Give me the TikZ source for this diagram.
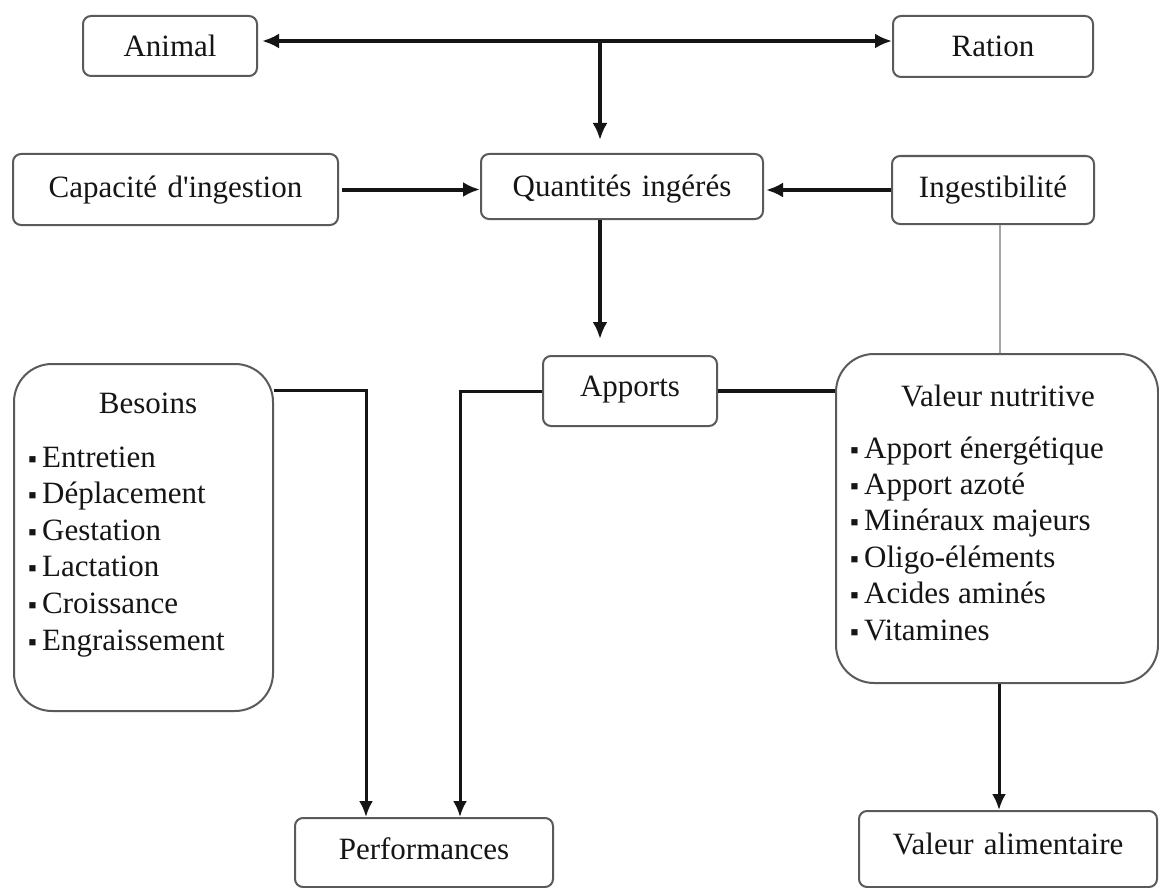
\documentclass[tikz,border=0pt]{standalone}
\usepackage{fontspec}
\setmainfont{Liberation Serif}
\usetikzlibrary{arrows.meta}
\definecolor{boxgray}{HTML}{5A5A5A}
\definecolor{ink}{HTML}{151515}
\newcommand{\bul}{\makebox[14pt][l]{\fontsize{25pt}{25pt}\selectfont ▪}}
\begin{document}
\begin{tikzpicture}[x=1pt,y=-1pt,
  every node/.style={font=\fontsize{31pt}{36pt}\selectfont, text=ink},
  box/.style={draw=boxgray, line width=2pt, rounded corners=8pt, fill=white, inner sep=0pt, align=center, anchor=north},
  bigbox/.style={draw=boxgray, line width=2pt, rounded corners=38pt, fill=white, inner sep=0pt, anchor=north west},
  item/.style={inner sep=0pt, anchor=base west},
  ttl/.style={inner sep=0pt, anchor=base},
  tarr/.style={line width=4pt, draw=ink, -{Latex[length=17pt,width=15pt]}},
  marr/.style={line width=3pt, draw=ink, -{Latex[length=16pt,width=14pt]}},
  thk/.style={line width=4pt, draw=ink},
  thn/.style={line width=1.5pt, draw=gray!70}]
\useasboundingbox[fill=white] (0,0) rectangle (1159,888);

% small boxes
\node[box, text width=174pt, text height=41pt, text depth=19pt] (ani) at (170,15) {Animal};
\node[box, text width=200pt, text height=41pt, text depth=20pt] (rat) at (993,15) {Ration};
\node[box, text width=325pt, text height=43pt, text depth=28pt] (cap) at (175.5,153) {Capacité d\textquotesingle ingestion};
\node[box, text width=282pt, text height=42pt, text depth=23pt] (qua) at (622,153) {Quantités ingérés};
\node[box, text width=202pt, text height=41pt, text depth=27pt] (ing) at (993,155) {Ingestibilité};
\node[box, text width=174pt, text height=40pt, text depth=30pt] (app) at (630,355) {Apports};
\node[box, text width=258pt, text height=41pt, text depth=28pt] (perf) at (424,817) {Performances};
\node[box, text width=298pt, text height=43pt, text depth=33pt] (va) at (1008,810) {Valeur alimentaire};

% big boxes
\node[bigbox, minimum width=259pt, minimum height=347pt] (bes) at (13,363) {};
\node[ttl] (bestitle) at (148,413) {Besoins};
\foreach \t [count=\i] in {Entretien,Déplacement,Gestation,Lactation,Croissance,Engraissement}
  \node[item] (b\i) at (28,{467+36.6*(\i-1)}) {\bul\t};

\node[bigbox, minimum width=322pt, minimum height=329pt] (vn) at (835,353) {};
\node[ttl] (vntitle) at (998,406) {Valeur nutritive};
\foreach \t [count=\i] in {Apport énergétique,Apport azoté,Minéraux majeurs,Oligo-éléments,Acides aminés,Vitamines}
  \node[item] (v\i) at (850,{458+36.4*(\i-1)}) {\bul\t};

% helper coordinates
\coordinate (j) at (600,41);
\coordinate (bp) at (366,390);
\coordinate (ap) at (460,390);
\coordinate (iv) at (1000,300);
\coordinate (vv) at (999,750);

% connectors
\draw[tarr, {Latex[length=17pt,width=15pt]}-{Latex[length=17pt,width=15pt]}, shorten <=4pt] (ani.east |- j) -- (rat.west |- j);
\draw[tarr, shorten >=13pt] (j) -- (j |- qua.north);
\draw[tarr, shorten <=3pt] (cap.east) -- (cap.east -| qua.west);
\draw[tarr, shorten >=2pt] (ing.west) -- (ing.west -| qua.east);
\draw[tarr, shorten >=16pt] (qua.south -| j) -- (j |- app.north);
\draw[thk] (app.east) -- (app.east -| vn.west);
\draw[thn] (ing.south -| iv) -- (iv |- vn.north);
\draw[marr] (bp -| bes.east) -- (bp) -- (bp |- perf.north);
\draw[marr] (app.west) -- (app.west -| ap) -- (ap |- perf.north);
\draw[marr] (vv |- vn.south) -- (vv |- va.north);
\end{tikzpicture}
\end{document}
